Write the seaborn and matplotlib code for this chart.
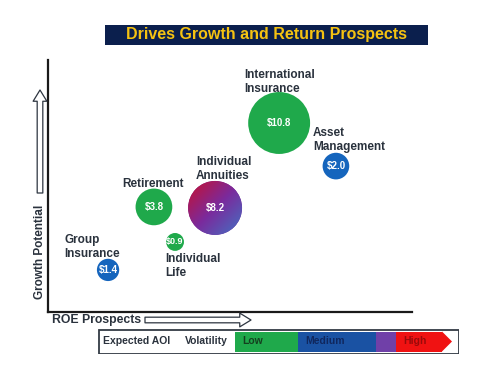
import numpy as np
import pandas as pd
import matplotlib.pyplot as plt
import seaborn as sns
from matplotlib.patches import Rectangle, Polygon, Ellipse
from matplotlib.colors import LinearSegmentedColormap

# Style
sns.set_theme(style="white")
plt.rcParams['font.family'] = ['Liberation Sans', 'DejaVu Sans']

# Data (ROE / growth scores on a 0-10 scale, AOI in $)
segments = ['Group\nInsurance', 'Individual\nLife', 'Retirement',
            'Individual\nAnnuities', 'International\nInsurance', 'Asset\nManagement']
roe = [1.65, 3.49, 2.91, 4.59, 6.35, 7.91]
growth = [1.67, 2.78, 4.17, 4.13, 7.50, 5.79]
aoi = [1.4, 0.9, 3.8, 8.2, 10.8, 2.0]
volatility = ['Medium', 'Low', 'Low', 'Mixed', 'Low', 'Medium']
aoi_labels = ['$1.4', '$0.9', '$3.8', '$8.2', '$10.8', '$2.0']

# label offsets (pixels, from bubble centre)
label_offsets = [(-44, 23), (-10, -24), (-32, 23), (-19, 39), (-35, 41), (-23, 26)]

df = pd.DataFrame({'segment': segments, 'roe': roe, 'growth': growth,
                   'aoi': aoi, 'volatility': volatility, 'label': aoi_labels})

palette = {'Low': '#1fa94b', 'Medium': '#1565bd', 'Mixed': '#7b2a9c'}
text_col = '#2a323d'
K = 184  # marker area (pt^2) per $ of AOI

fig = plt.figure(figsize=(4.8, 3.67), dpi=100)
ax = fig.add_axes([48 / 480, 55 / 367, 364 / 480, 252 / 367])

sns.scatterplot(data=df, x='roe', y='growth', size='aoi', hue='volatility',
                sizes=(min(aoi) * K, max(aoi) * K), size_norm=(min(aoi), max(aoi)),
                palette=palette, edgecolor='none', legend=False, ax=ax, zorder=2)

ax.set_xlim(0, 10)
ax.set_ylim(0, 10)
ax.set_xlabel('')
ax.set_ylabel('')
ax.set_xticks([])
ax.set_yticks([])
for side in ['top', 'right']:
    ax.spines[side].set_visible(False)
for side in ['left', 'bottom']:
    ax.spines[side].set_color('#1a1a1a')
    ax.spines[side].set_linewidth(1.6)

# gradient fill for the annuities bubble
i = segments.index('Individual\nAnnuities')
r_px = np.sqrt(aoi[i] * K) / 2 * 100 / 72
dx = r_px / 364 * 10
dy = r_px / 252 * 10
cmap = LinearSegmentedColormap.from_list('vol', ['#c8102e', '#7b2a9c', '#4272c4'])
gx, gy = np.meshgrid(np.linspace(0, 1, 200), np.linspace(0, 1, 200))
im = ax.imshow((gx + gy) / 2, cmap=cmap, origin='upper', aspect='auto', zorder=3,
               extent=[roe[i] - dx, roe[i] + dx, growth[i] - dy, growth[i] + dy])
clip = Ellipse((roe[i], growth[i]), 2 * dx, 2 * dy, transform=ax.transData)
im.set_clip_path(clip)
ax.set_xlim(0, 10)
ax.set_ylim(0, 10)

# bubble values and segment names
for j, row in df.iterrows():
    ax.text(row['roe'], row['growth'], row['label'], color='white', fontsize=7 if row['aoi'] > 1 else 6.5,
            fontweight='bold', ha='center', va='center', zorder=5)
    ox, oy = label_offsets[j]
    ax.annotate(row['segment'], (row['roe'], row['growth']), xytext=(ox, oy),
                textcoords='offset pixels', ha='left', va='center', fontsize=8.5,
                fontweight='bold', color=text_col, linespacing=1.15, zorder=5,
                annotation_clip=False)

# title
fig.add_artist(Rectangle((105 / 480, 322 / 367), 323 / 480, 20 / 367,
                         transform=fig.transFigure, facecolor='#0b1f4d', edgecolor='none'))
fig.text(266 / 480, 332 / 367, 'Drives Growth and Return Prospects', color='#f5c211',
         fontsize=11.5, fontweight='bold', ha='center', va='center')

# axis captions with hollow arrows
fig.text(40 / 480, 115 / 367, 'Growth Potential', rotation=90, fontsize=8.5,
         fontweight='bold', color=text_col, ha='center', va='center')
fig.text(52 / 480, 47 / 367, 'ROE Prospects', fontsize=8.8,
         fontweight='bold', color=text_col, ha='left', va='center')
arrow = dict(arrowstyle='simple,head_width=1.1,head_length=0.9,tail_width=0.45',
             fc='white', ec='#2d3540', lw=0.9, shrinkA=0, shrinkB=0, mutation_scale=9)
ax.annotate('', xy=(40, 277), xytext=(40, 174), xycoords='figure pixels',
            textcoords='figure pixels', arrowprops=arrow)
ax.annotate('', xy=(251, 47), xytext=(145, 47), xycoords='figure pixels',
            textcoords='figure pixels', arrowprops=arrow)

# volatility legend bar
lax = fig.add_axes([98 / 480, 13 / 367, 361 / 480, 25 / 367])
lax.set_xlim(0, 361)
lax.set_ylim(0, 25)
lax.axis('off')
lax.add_patch(Rectangle((0.5, 0.5), 360, 24, facecolor='white', edgecolor='#333a44', lw=1.3))
bands = [(137, 63, '#1fa94b'), (200, 78, '#1a52a3'), (278, 20, '#7040a8'), (298, 46, '#f01212')]
for x0, w, c in bands:
    lax.add_patch(Rectangle((x0, 2.5), w, 20, facecolor=c, edgecolor='none'))
lax.add_patch(Polygon([(344, 2.5), (354, 12.5), (344, 22.5)], facecolor='#f01212', edgecolor='none'))
lax.text(5, 12.5, 'Expected AOI', fontsize=7.5, fontweight='bold', color=text_col, va='center')
lax.text(87, 12.5, 'Volatility', fontsize=7.5, fontweight='bold', color=text_col, va='center')
lax.text(144, 12.5, 'Low', fontsize=7.5, fontweight='bold', color='#14401f', va='center')
lax.text(207, 12.5, 'Medium', fontsize=7.5, fontweight='bold', color='#10275e', va='center')
lax.text(305, 12.5, 'High', fontsize=7.5, fontweight='bold', color='#9a0a0a', va='center')

fig.savefig('out.png', dpi=100)
